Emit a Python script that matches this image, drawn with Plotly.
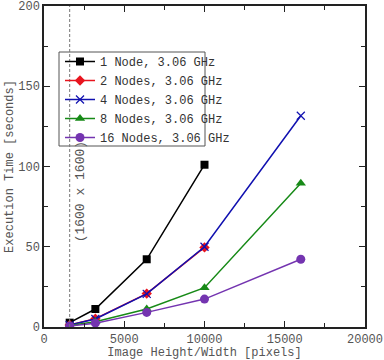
import plotly.graph_objects as go

x_vals = [1600, 3200, 6400, 10000, 16000]
node1 = [2.7, 11.2, 42.2, 101.1]
node2 = [1.2, 5.2, 20.8, 49.6]
node4 = [1.2, 5.0, 20.6, 50.0, 131.6]
node8 = [0.9, 3.3, 11.2, 24.5, 89.5]
node16 = [0.7, 2.4, 9.1, 17.4, 42.2]
names = ["1 Node, 3.06 GHz", "2 Nodes, 3.06 GHz", "4 Nodes, 3.06 GHz",
         "8 Nodes, 3.06 GHz", "16 Nodes, 3.06 GHz"]
FONT = "Liberation Mono, Courier New, monospace"

fig = go.Figure()
series = [
    (node1, "#000000", "square", 8),
    (node2, "#e8141e", "diamond", 8),
    (node4, "#1010b0", "x-thin", 8),
    (node8, "#178a17", "triangle-up", 9),
    (node16, "#7434b0", "circle", 9),
]
for (ys, col, sym, sz), nm in zip(series, names):
    marker = dict(color=col, symbol=sym, size=sz)
    if sym == "x-thin":
        marker["line"] = dict(color=col, width=1.2)
    fig.add_trace(go.Scatter(
        x=x_vals[:len(ys)], y=ys, name=nm, mode="lines+markers",
        line=dict(color=col, width=1.5), marker=marker))

# dashed reference line at 1600 px
fig.add_shape(type="line", xref="x", yref="paper", x0=1600, x1=1600, y0=0, y1=1,
              line=dict(color="#777777", width=1, dash="3px,2px"))
fig.add_annotation(x=1600, xref="x", y=84, yref="y", text="(1600 x 1600)",
                   textangle=-90, showarrow=False, xanchor="left", xshift=1,
                   font=dict(family=FONT, size=13, color="#555555"))

# legend box
fig.add_shape(type="rect", xref="paper", yref="paper",
              x0=(59 - 44) / 321, x1=(205 - 44) / 321,
              y0=(327 - 146) / 321, y1=(327 - 52) / 321,
              line=dict(color="#555555", width=1), fillcolor="white", layer="below")

axis_common = dict(
    showline=True, linecolor="#222222", linewidth=1.5, mirror="ticks",
    ticks="inside", ticklen=6, tickcolor="#222222", tickwidth=1,
    showgrid=False, zeroline=False, automargin=False,
    tickfont=dict(family=FONT, size=12, color="#555555"),
    minor=dict(ticks="inside", ticklen=4, tickcolor="#222222", tickwidth=1, showgrid=False),
)
fig.update_xaxes(range=[0, 20000], tickmode="linear", tick0=0, dtick=5000,
                 minor_dtick=2500, tickformat="d",
                 title=dict(text="Image Height/Width [pixels]", standoff=2,
                            font=dict(family=FONT, size=12, color="#555555")),
                 **axis_common)
fig.update_yaxes(range=[0, 200], tickmode="linear", tick0=0, dtick=50,
                 minor_dtick=25,
                 title=dict(text="Execution Time [seconds]", standoff=2,
                            font=dict(family=FONT, size=12, color="#555555")),
                 **axis_common)

fig.update_layout(
    width=384, height=360,
    margin=dict(l=44, r=19, t=6, b=33),
    plot_bgcolor="white", paper_bgcolor="white",
    showlegend=True,
    legend=dict(x=(60 - 44) / 321, y=(327 - 47) / 321, xanchor="left", yanchor="top",
                bgcolor="rgba(0,0,0,0)", borderwidth=0, itemwidth=30,
                font=dict(family=FONT, size=12, color="#333333"),
                tracegroupgap=0),
)

fig.write_html("out.html", config={"displayModeBar": False},
               post_script="document.body.style.margin='0';")
